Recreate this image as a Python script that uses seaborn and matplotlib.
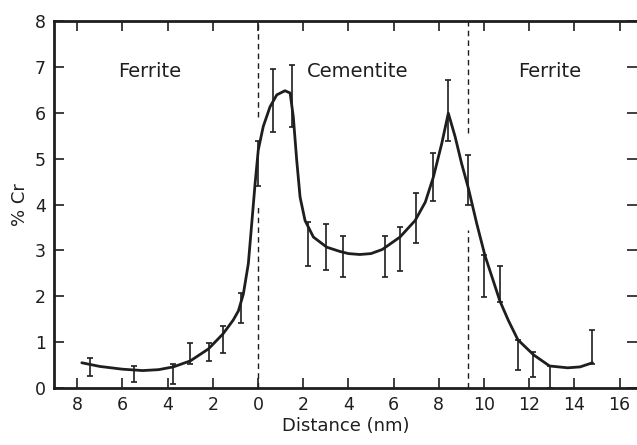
import numpy as np
import pandas as pd
import seaborn as sns
import matplotlib
matplotlib.use("Agg")
import matplotlib.pyplot as plt

# measured points (distance in nm, % Cr) with error half-widths
pt_x = [-7.45, -5.5, -3.75, -3.0, -2.15, -1.55, -0.75, 0.0, 0.67, 1.5, 2.2, 3.0, 3.75,
        5.6, 6.3, 7.0, 7.75, 8.4, 9.3, 10.0, 10.7, 11.5, 12.15, 12.9, 14.8]
pt_y = [0.46, 0.31, 0.31, 0.75, 0.78, 1.06, 1.75, 4.89, 6.27, 6.37, 3.14, 3.07, 2.86,
        2.86, 3.02, 3.70, 4.60, 6.05, 4.53, 2.44, 2.27, 0.72, 0.52, 0.24, 0.90]
pt_err = [0.20, 0.18, 0.22, 0.23, 0.20, 0.30, 0.33, 0.49, 0.69, 0.68, 0.47, 0.50, 0.45,
          0.45, 0.48, 0.55, 0.53, 0.67, 0.55, 0.45, 0.40, 0.33, 0.27, 0.24, 0.37]

# hand-drawn fit curve
curve_x = [-7.8, -7.0, -6.0, -5.1, -4.4, -3.75, -3.0, -2.2, -1.55, -1.1, -0.87, -0.65,
           -0.43, -0.28, -0.13, 0.01, 0.23, 0.53, 0.83, 1.19, 1.42, 1.56, 1.71, 1.86, 2.08,
           2.45, 3.04, 3.6, 4.0, 4.5, 5.0, 5.5, 6.28, 6.95, 7.4, 7.76, 8.13, 8.42, 8.72,
           9.01, 9.31, 9.68, 10.04, 10.7, 11.08, 11.5, 12.2, 12.9, 13.7, 14.25, 14.8]
curve_y = [0.55, 0.47, 0.41, 0.38, 0.40, 0.46, 0.59, 0.85, 1.18, 1.48, 1.68, 2.05,
           2.71, 3.58, 4.46, 5.19, 5.70, 6.13, 6.39, 6.48, 6.43, 5.91, 4.97, 4.16, 3.65,
           3.29, 3.07, 2.98, 2.93, 2.91, 2.93, 3.02, 3.29, 3.65, 4.05, 4.60, 5.33, 5.99, 5.48,
           4.89, 4.35, 3.58, 2.89, 1.90, 1.47, 1.05, 0.72, 0.48, 0.44, 0.46, 0.55]

xticks = [-8, -6, -4, -2, 0, 2, 4, 6, 8, 10, 12, 14, 16]
xtick_labels = ["8", "6", "4", "2", "0", "2", "4", "6", "8", "10", "12", "14", "16"]
phase_labels = ["Ferrite", "Cementite", "Ferrite"]
phase_x = [-4.8, 4.4, 12.9]
boundaries = [0.0, 9.3]

sns.set_style("ticks")
plt.rcParams['font.family'] = ['DejaVu Sans']
ink = "#1e1e1e"

fig = plt.figure(figsize=(6.37, 4.45), dpi=100)
ax = fig.add_axes([54 / 637, 57 / 445, 583 / 637, 367 / 445])

curve = pd.DataFrame({"x": curve_x, "y": curve_y})
sns.lineplot(data=curve, x="x", y="y", ax=ax, color=ink, linewidth=2.0)
ax.errorbar(pt_x, pt_y, yerr=pt_err, fmt="none", ecolor=ink, elinewidth=1.2,
            capsize=2.5, capthick=1.2)

# dashed phase boundaries, broken where the curve crosses
ax.vlines(boundaries[0], 0, 4.0, colors=ink, linestyles=(0, (4, 3)), linewidth=1)
ax.vlines(boundaries[0], 5.9, 8, colors=ink, linestyles=(0, (4, 3)), linewidth=1)
ax.vlines(boundaries[1], 0, 3.45, colors=ink, linestyles=(0, (4, 3)), linewidth=1)
ax.vlines(boundaries[1], 5.55, 8, colors=ink, linestyles=(0, (4, 3)), linewidth=1)

for lab, px in zip(phase_labels, phase_x):
    ax.text(px, 6.9, lab, ha="center", va="center", fontsize=14, color=ink)

ax.set_xlim(-9.03, 16.77)
ax.set_ylim(0, 8)
ax.set_xticks(xticks)
ax.set_xticklabels(xtick_labels)
ax.set_yticks(range(0, 9))
ax.tick_params(direction="in", length=7, width=1.2, top=True, right=True,
               labelsize=12.5, colors=ink, pad=6)
ax.set_xlabel("Distance (nm)", fontsize=13, color=ink, labelpad=2)
ax.set_ylabel("% Cr", fontsize=13, color=ink, labelpad=4)
for s in ["left", "bottom", "top"]:
    ax.spines[s].set_linewidth(2)
    ax.spines[s].set_color(ink)
ax.spines["right"].set_visible(False)

fig.savefig("out.png", dpi=100)
